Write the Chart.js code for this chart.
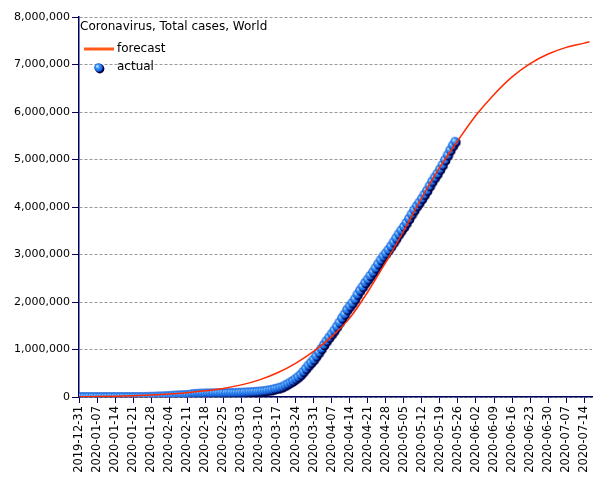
<!DOCTYPE html>
<html>
<head>
<meta charset="utf-8">
<script src="https://cdn.jsdelivr.net/npm/chart.js@4"></script>
<style>
  html, body { margin: 0; padding: 0; background: #fff; }
  #wrap { width: 605px; height: 480px; }
</style>
</head>
<body>
<div id="wrap"><canvas id="grafico" width="605" height="480"></canvas></div>
<script>
// Rótulos do eixo x (um a cada 7 dias, a partir de 2019-12-31)
const tickLabels = [
  '2019-12-31', '2020-01-07', '2020-01-14', '2020-01-21', '2020-01-28',
  '2020-02-04', '2020-02-11', '2020-02-18', '2020-02-25', '2020-03-03',
  '2020-03-10', '2020-03-17', '2020-03-24', '2020-03-31', '2020-04-07',
  '2020-04-14', '2020-04-21', '2020-04-28', '2020-05-05', '2020-05-12',
  '2020-05-19', '2020-05-26', '2020-06-02', '2020-06-09', '2020-06-16',
  '2020-06-23', '2020-06-30', '2020-07-07', '2020-07-14'
];

// Casos reais, um valor por dia desde 2019-12-31 (até 2020-05-25)
const actualCases = [
  27, 27, 27, 44, 44, 59, 59, 59, 59, 59,
  59, 59, 59, 60, 60, 61, 61, 66, 83, 219,
  239, 392, 534, 631, 897, 1350, 2023, 2820, 4587, 6067,
  7823, 9826, 11946, 14554, 17372, 20615, 24522, 28273, 31491, 34933,
  37552, 40540, 43105, 45177, 60328, 64543, 67103, 69265, 71332, 73327,
  75191, 75723, 76719, 77804, 78812, 79339, 80132, 80995, 82101, 83365,
  85203, 87024, 89068, 90664, 93077, 95316, 98172, 102133, 105824, 109695,
  114232, 118610, 125497, 133852, 143227, 151367, 167418, 180096, 194836, 213150,
  242525, 271900, 305312, 338010, 377599, 418091, 467443, 529591, 593291, 660706,
  720117, 782365, 857487, 932605, 1013157, 1095917, 1176060, 1249754, 1321481, 1396476,
  1479804, 1565278, 1657526, 1735650, 1834721, 1904838, 1976191, 2056054, 2152437, 2240190,
  2317759, 2401378, 2472259, 2549632, 2624717, 2708885, 2794651, 2877769, 2954222, 3020117,
  3092803, 3169349, 3254975, 3338255, 3424047, 3503419, 3579653, 3662257, 3750793, 3843212,
  3930659, 4016340, 4090094, 4172096, 4256812, 4342910, 4439049, 4535140, 4619486, 4698219,
  4790003, 4882818, 4985764, 5089317, 5193429, 5290883, 5375707
];

// Previsão (dia desde 2019-12-31 e total de casos)
const forecastDays = [0, 7, 14, 21, 28, 35, 42, 49, 56, 63, 70, 77, 84, 91, 98,
  105, 112, 119, 126, 133, 140, 147, 154, 161, 168, 175, 182, 189, 196, 198];
const forecastCases = [5000, 9000, 15000, 24000, 40000, 62000, 92000, 130000, 180000, 255000,
  360000, 510000, 710000, 960000, 1270000, 1660000, 2210000, 2840000, 3500000, 4200000,
  4840000, 5400000, 5930000, 6370000, 6740000, 7020000, 7220000, 7360000, 7450000, 7480000];

const corEixo = '#000060';
const fonte = 'DejaVu Sans';

// Bolinha azul usada nos pontos reais
function criarBolinha() {
  const c = document.createElement('canvas');
  c.width = 12; c.height = 12;
  const g = c.getContext('2d');
  g.fillStyle = '#00004a';
  g.beginPath(); g.arc(6.8, 6.8, 4.6, 0, Math.PI * 2); g.fill();
  const grad = g.createRadialGradient(4.2, 4.2, 0.5, 5.5, 5.5, 4.6);
  grad.addColorStop(0, '#b8e4ff');
  grad.addColorStop(0.35, '#3c96ff');
  grad.addColorStop(1, '#0a4fc8');
  g.fillStyle = grad;
  g.beginPath(); g.arc(5.5, 5.5, 4.3, 0, Math.PI * 2); g.fill();
  return c;
}
const bolinha = criarBolinha();

// Título e legenda desenhados dentro da área do gráfico
const legendaInterna = {
  id: 'legendaInterna',
  afterDraw(chart) {
    const ctx = chart.ctx;
    ctx.save();
    ctx.fillStyle = '#000';
    ctx.textBaseline = 'middle';
    ctx.font = '12px "' + fonte + '"';
    ctx.fillText('Coronavirus, Total cases, World', 80, 27);
    ctx.strokeStyle = '#ff5a1a';
    ctx.lineWidth = 3;
    ctx.beginPath(); ctx.moveTo(84, 49); ctx.lineTo(114, 49); ctx.stroke();
    ctx.fillText('forecast', 117, 49);
    ctx.drawImage(bolinha, 93, 62);
    ctx.fillText('actual', 117, 67);
    ctx.restore();
  }
};

const grafico = new Chart(document.getElementById('grafico'), {
  type: 'line',
  data: {
    datasets: [
      {
        label: 'forecast',
        data: forecastDays.map((d, i) => ({ x: d, y: forecastCases[i] })),
        borderColor: '#ff2a00',
        borderWidth: 1.5,
        pointRadius: 0,
        cubicInterpolationMode: 'monotone',
        fill: false
      },
      {
        label: 'actual',
        data: actualCases.map((v, i) => ({ x: i, y: v })),
        showLine: false,
        pointStyle: bolinha,
        pointRadius: 5
      }
    ]
  },
  options: {
    responsive: false,
    animation: false,
    layout: { padding: { top: 17, right: 13, left: 0, bottom: 0 } },
    plugins: {
      legend: { display: false },
      tooltip: { enabled: false }
    },
    scales: {
      x: {
        type: 'linear',
        min: 0,
        max: 199,
        afterBuildTicks: (s) => { s.ticks = tickLabels.map((_, i) => ({ value: i * 7 })); },
        afterFit: (s) => { s.height = 83; },
        ticks: {
          autoSkip: false,
          minRotation: 90,
          maxRotation: 90,
          padding: 3,
          color: '#000',
          font: { family: fonte, size: 11.5 },
          callback: (v) => tickLabels[Math.round(v / 7)]
        },
        grid: { drawOnChartArea: false, tickLength: 6, tickColor: corEixo },
        border: { color: corEixo, width: 1.5 }
      },
      y: {
        min: 0,
        max: 8000000,
        afterFit: (s) => { s.width = 79; },
        ticks: {
          stepSize: 1000000,
          padding: 2,
          color: '#000',
          font: { family: fonte, size: 11 },
          callback: (v) => v.toLocaleString('en-US')
        },
        grid: { color: '#9a9a9a', tickLength: 7, tickColor: corEixo, tickBorderDash: [] },
        border: { color: corEixo, width: 1.5, dash: [3, 2] }
      }
    }
  },
  plugins: [legendaInterna]
});
</script>
</body>
</html>
